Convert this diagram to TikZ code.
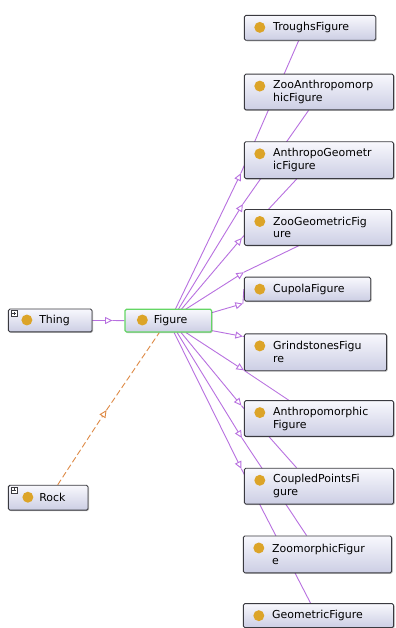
\documentclass[tikz,border=0pt]{standalone}
\usepackage{fontspec}
\setmainfont{DejaVu Sans}
\usetikzlibrary{arrows.meta,shadows}
\definecolor{edgec}{RGB}{184,112,224}
\definecolor{rockc}{RGB}{222,138,70}
\definecolor{dotc}{RGB}{220,164,40}
\definecolor{boxtop}{RGB}{248,248,253}
\definecolor{boxbot}{RGB}{204,206,228}
\definecolor{boxline}{RGB}{58,58,64}
\definecolor{figline}{RGB}{100,214,100}
\pgfdeclarelayer{bg}
\pgfdeclarelayer{edges}
\pgfsetlayers{bg,edges,main}
\newcommand\boxfont{\fontsize{11}{13}\selectfont}
\begin{document}
\hyphenpenalty=10000
\exhyphenpenalty=10000
\begin{tikzpicture}[x=1pt,y=-1pt,
  cls/.style={draw=boxline, line width=0.9pt, rounded corners=1.5pt,
    top color=boxtop, bottom color=boxbot, anchor=north west,
    inner xsep=0pt, inner ysep=0pt, align=left, font=\boxfont,
    drop shadow={shadow xshift=1pt, shadow yshift=-1pt, opacity=0.25, fill=black}},
  figcls/.style={cls, draw=figline, line width=1.2pt},
  dot/.style={fill=dotc},
  isa/.style={draw=edgec, line width=0.9pt, -{Triangle[open,length=7.5pt,width=7pt]}},
  isaline/.style={draw=edgec, line width=0.9pt},
  rockline/.style={draw=rockc, line width=0.9pt, dash pattern=on 6pt off 3pt},
  rockisa/.style={rockline, -{Triangle[open,length=7.5pt,width=7pt]}},
  plusbox/.style={draw=boxline, fill=white, line width=0.4pt}
]
\begin{pgfonlayer}{bg}
\path[use as bounding box, fill=white] (0,0) rectangle (397,628);
\end{pgfonlayer}

% nodes
\node[cls, minimum width=84pt, minimum height=23pt, text width=22pt] (thing) at (8,310) {Thing};
\node[figcls, minimum width=87pt, minimum height=23pt, text width=29pt] (fig) at (125,310) {Figure};
\node[cls, minimum width=80pt, minimum height=25pt, text width=18pt] (rock) at (8,487) {Rock};

\node[cls, minimum width=132pt, minimum height=25pt, text width=74pt] (troughs) at (245,15) {TroughsFigure};
\node[cls, minimum width=150pt, minimum height=36pt, text width=92pt] (zooanthro) at (245,74) {ZooAnthropomorp\\hicFigure};
\node[cls, minimum width=150pt, minimum height=37pt, text width=92pt] (anthrogeo) at (245,142) {AnthropoGeometr\\icFigure};
\node[cls, minimum width=148pt, minimum height=36pt, text width=90pt] (zoogeo) at (245,210) {ZooGeometricFig\\ure};
\node[cls, minimum width=127pt, minimum height=24pt, text width=69pt] (cupola) at (245,278) {CupolaFigure};
\node[cls, minimum width=143pt, minimum height=37pt, text width=85pt] (grind) at (245,335) {GrindstonesFigu\\re};
\node[cls, minimum width=150pt, minimum height=36pt, text width=92pt] (anthro) at (245,402) {Anthropomorphic\\Figure};
\node[cls, minimum width=150pt, minimum height=36pt, text width=92pt] (coupled) at (245,470) {CoupledPointsFi\\gure};
\node[cls, minimum width=149pt, minimum height=37pt, text width=91pt] (zoomorph) at (244,538) {ZoomorphicFigur\\e};
\node[cls, minimum width=151pt, minimum height=24pt, text width=93pt] (geom) at (244,606) {GeometricFigure};

% dots
\foreach \n in {troughs,zooanthro,anthrogeo,zoogeo,cupola,grind,anthro,coupled,zoomorph,geom} {
  \fill[dot] ([xshift=16pt,yshift=-12.5pt]\n.north west) circle (5.5);
}
\fill[dot] ([xshift=18pt,yshift=-11.5pt]fig.north west) circle (5.5);
\fill[dot] ([xshift=19pt,yshift=-11.5pt]thing.north west) circle (5.5);
\fill[dot] ([xshift=20pt,yshift=-12.5pt]rock.north west) circle (5.5);

% expand boxes
\foreach \n in {thing,rock} {
  \draw[plusbox] ([xshift=3pt,yshift=-2pt]\n.north west) rectangle ++(6,6);
  \draw[boxline, line width=0.4pt] ([xshift=4.3pt,yshift=-5pt]\n.north west) -- ++(3.4,0);
  \draw[boxline, line width=0.4pt] ([xshift=6pt,yshift=-3.3pt]\n.north west) -- ++(0,3.4);
}

% arrow tip points
\coordinate (tThing) at (113,322);
\coordinate (tRock) at (107,412);
\coordinate (tTroughs) at (242,174);
\coordinate (tZooAnthro) at (244,205);
\coordinate (tAnthroGeo) at (243,239);
\coordinate (tZooGeo) at (245,273.5);
\coordinate (tCupola) at (244,305);
\coordinate (tGrind) at (244,338);
\coordinate (tAnthro) at (245,372);
\coordinate (tCoupled) at (242.5,407.5);
\coordinate (tZoomorph) at (243,440);
\coordinate (tGeom) at (242.5,471);

\begin{pgfonlayer}{edges}
% Thing -> Figure
\draw[isa] (thing.east) -- (tThing);
\draw[isaline] (tThing) -- (fig.west);
% Rock -> Figure
\draw[rockisa] ([xshift=50pt]rock.north west) -- (tRock);
\draw[rockline] (tRock) -- ([xshift=35pt]fig.south west);
% upward
\draw[isa] ([xshift=51pt,yshift=-1pt]fig.north west) -- (tTroughs);
\draw[isaline] (tTroughs) -- ([xshift=55pt]troughs.south west);
\draw[isa] ([xshift=54pt,yshift=-1pt]fig.north west) -- (tZooAnthro);
\draw[isaline] (tZooAnthro) -- ([xshift=65pt]zooanthro.south west);
\draw[isa] ([xshift=57pt,yshift=-1pt]fig.north west) -- (tAnthroGeo);
\draw[isaline] (tAnthroGeo) -- ([xshift=53pt]anthrogeo.south west);
\draw[isa] ([xshift=61pt,yshift=-1pt]fig.north west) -- (tZooGeo);
\draw[isaline] (tZooGeo) -- ([xshift=55pt]zoogeo.south west);
\draw[isa] ([yshift=-4pt]fig.north east) -- (tCupola);
\draw[isaline] (tCupola) -- (cupola.west);
% downward
\draw[isa] ([yshift=2pt]fig.south east) -- (tGrind);
\draw[isaline] (tGrind) -- ([yshift=-3pt]grind.north west);
\draw[isa] ([xshift=62pt]fig.south west) -- (tAnthro);
\draw[isaline] (tAnthro) -- ([xshift=45pt]anthro.north west);
\draw[isa] ([xshift=57pt]fig.south west) -- (tCoupled);
\draw[isaline] (tCoupled) -- ([xshift=53pt]coupled.north west);
\draw[isa] ([xshift=53pt]fig.south west) -- (tZoomorph);
\draw[isaline] (tZoomorph) -- ([xshift=64pt]zoomorph.north west);
\draw[isa] ([xshift=50pt]fig.south west) -- (tGeom);
\draw[isaline] (tGeom) -- ([xshift=68pt]geom.north west);
\end{pgfonlayer}
\end{tikzpicture}
\end{document}
